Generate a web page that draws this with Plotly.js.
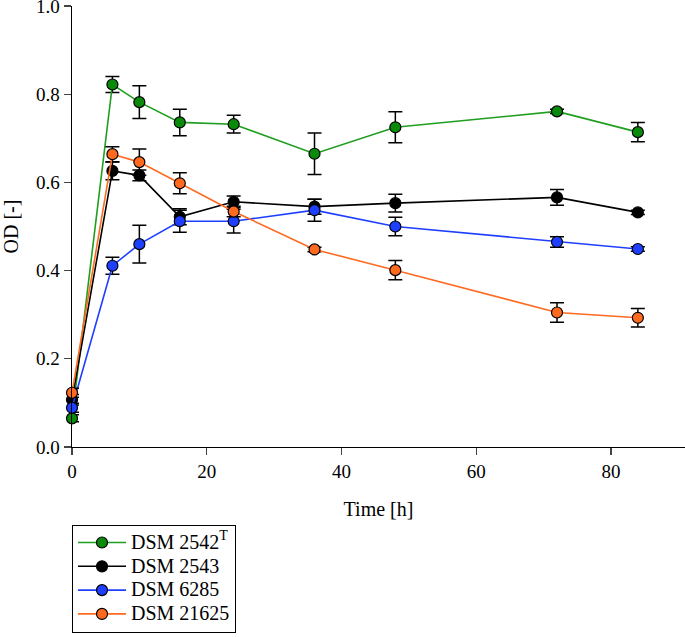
<!DOCTYPE html>
<html>
<head>
<meta charset="utf-8">
<script src="https://cdn.plot.ly/plotly-3.0.1.min.js"></script>
<style>html,body{margin:0;padding:0;background:#fff;}#chart{width:685px;height:637px;}</style>
</head>
<body>
<div id="chart"></div>
<script>
const timeH = [0, 6, 10, 16, 24, 36, 48, 72, 84];
const seriesNames = ["DSM 2542<sup>T</sup>", "DSM 2543", "DSM 6285", "DSM 21625"];
const od2542 = [0.065, 0.822, 0.782, 0.736, 0.732, 0.665, 0.725, 0.761, 0.714];
const err2542 = [0.008, 0.018, 0.037, 0.030, 0.020, 0.047, 0.035, 0.005, 0.022];
const od2543 = [0.107, 0.626, 0.616, 0.522, 0.556, 0.545, 0.553, 0.566, 0.532];
const err2543 = [0.012, 0.020, 0.012, 0.018, 0.013, 0.017, 0.020, 0.018, 0.005];
const od6285 = [0.089, 0.411, 0.460, 0.512, 0.512, 0.537, 0.500, 0.465, 0.449];
const err6285 = [0.010, 0.019, 0.043, 0.025, 0.027, 0.025, 0.021, 0.012, 0.005];
const od21625 = [0.123, 0.664, 0.646, 0.598, 0.534, 0.448, 0.401, 0.305, 0.293];
const err21625 = [0.010, 0.017, 0.030, 0.024, 0.012, 0.005, 0.022, 0.022, 0.021];
const lineColors = ["#1f9e1f", "#000000", "#1f3fff", "#ff6a1f"];
const markerColors = ["#0a8a0a", "#000000", "#1f3fff", "#ff6a1f"];

const ys = [od2542, od2543, od6285, od21625];
const es = [err2542, err2543, err6285, err21625];
const traces = ys.map((y, i) => ({
  x: timeH, y: y, name: '<span style="font-size:20px">' + seriesNames[i] + '</span>',
  type: 'scatter', mode: 'lines+markers',
  cliponaxis: false,
  line: {color: lineColors[i], width: 1.6},
  marker: {color: markerColors[i], size: 11, line: {color: '#000', width: 1.2}},
  error_y: {type: 'data', array: es[i], visible: true, color: '#000', thickness: 1.5, width: 7}
}));

const layout = {
  width: 685, height: 637,
  margin: {l: 72, r: 0, t: 6, b: 190, autoexpand: false},
  paper_bgcolor: '#fff', plot_bgcolor: '#fff',
  font: {family: 'Liberation Serif, Times New Roman, serif', size: 19, color: '#000'},
  showlegend: true,
  legend: {x: 0, y: -0.176, xanchor: 'left', yanchor: 'top', bordercolor: '#000', borderwidth: 1,
           font: {size: 16}, tracegroupgap: 0, itemwidth: 48, bgcolor: '#fff'},
  xaxis: {range: [0, 91], tickvals: [0, 20, 40, 60, 80], ticks: 'outside', ticklen: 7, tickwidth: 1.2,
          ticklabeloverflow: 'allow',
          showgrid: false, zeroline: false, showline: true, linecolor: '#000', linewidth: 1.4,
          title: {text: 'Time [h]', font: {size: 20}, standoff: 20}},
  yaxis: {range: [0, 1.0], dtick: 0.2, tickformat: '.1f', ticks: 'outside', ticklen: 7, tickwidth: 1.2,
          ticklabeloverflow: 'allow',
          showgrid: false, zeroline: false, showline: true, linecolor: '#000', linewidth: 1.4,
          title: {text: 'OD [-]', font: {size: 20}, standoff: 14}}
};
Plotly.newPlot('chart', traces, layout, {displayModeBar: false, staticPlot: true});
</script>
</body>
</html>
